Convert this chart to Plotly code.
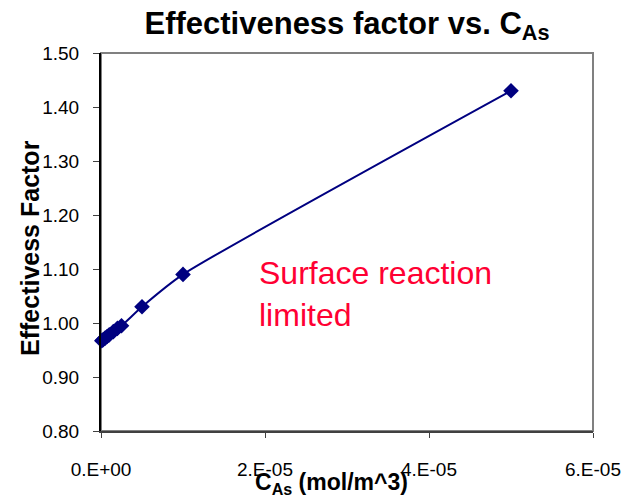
import plotly.graph_objects as go

# Surface concentration of A (mol/m^3) and the resulting effectiveness factor
c_as = [1e-7, 2.5e-7, 5e-7, 7.5e-7, 1e-6, 1.5e-6, 2e-6, 2.5e-6, 5e-6, 1e-5, 5e-5]
eta = [0.967, 0.969, 0.972, 0.975, 0.978, 0.984, 0.990, 0.995, 1.03, 1.09, 1.43]

x_tick_vals = [0, 2e-5, 4e-5, 6e-5]
x_tick_text = ["0.E+00", "2.E-05", "4.E-05", "6.E-05"]
y_tick_vals = [0.80, 0.90, 1.00, 1.10, 1.20, 1.30, 1.40, 1.50]
y_tick_text = ["0.80", "0.90", "1.00", "1.10", "1.20", "1.30", "1.40", "1.50"]

NAVY = "#000080"
FONT = "Liberation Sans, Arial, sans-serif"

# plot-area box in pixels
L, R, T, B = 101, 593, 53, 431
W, H = R - L, B - T

fig = go.Figure()
fig.add_trace(go.Scatter(
    x=c_as, y=eta, mode="lines+markers",
    line=dict(color=NAVY, width=2, shape="spline", smoothing=0.5),
    marker=dict(symbol="diamond", size=12, color=NAVY),
    showlegend=False, cliponaxis=False,
))

fig.update_layout(
    width=626, height=499,
    margin=dict(l=L, r=626 - R, t=T, b=499 - B, autoexpand=False),
    paper_bgcolor="white", plot_bgcolor="white",
    font=dict(family=FONT, color="black"),
    title=dict(
        text="<b>Effectiveness factor vs. C<sub>As</sub></b>",
        x=(L + R) / 2 / 626, xanchor="center", y=1 - 23 / 499, yanchor="middle",
        font=dict(size=31, family=FONT),
    ),
    shapes=[dict(type="rect", xref="paper", yref="paper", x0=0, x1=1, y0=0, y1=1,
                 line=dict(color="#808080", width=2), layer="below")],
    annotations=[
        dict(text="<b>C<sub>As</sub> (mol/m^3)</b>", xref="paper", yref="paper",
             x=(331 - L) / W, y=(B - 483) / H, xanchor="center", yanchor="middle",
             showarrow=False, font=dict(size=23, family=FONT)),
        dict(text="<b>Effectivess Factor</b>", xref="paper", yref="paper",
             x=(30 - L) / W, y=(B - 248) / H, xanchor="center", yanchor="middle",
             textangle=-90, showarrow=False, font=dict(size=25, family=FONT)),
        dict(text="Surface reaction<br>limited", xref="paper", yref="paper",
             x=(257 - L) / W, y=(B - 253) / H, xanchor="left", yanchor="top",
             align="left", showarrow=False,
             font=dict(size=32, color="#FF0033", family=FONT)),
    ],
)

fig.update_xaxes(
    range=[0, 6e-5], tickvals=x_tick_vals, ticktext=x_tick_text, automargin=False,
    showgrid=False, zeroline=False, showline=True, linecolor="#404040", linewidth=2,
    ticks="outside", ticklen=5, tickcolor="#404040", tickwidth=1,
    ticklabelstandoff=15, tickfont=dict(size=19, family=FONT),
)
fig.update_yaxes(
    range=[0.80, 1.50], tickvals=y_tick_vals, ticktext=y_tick_text, automargin=False,
    showgrid=False, zeroline=False, showline=True, linecolor="black", linewidth=2,
    ticks="outside", ticklen=6, tickcolor="#404040", tickwidth=1,
    ticklabelstandoff=10, tickfont=dict(size=19, family=FONT),
)

fig.write_html("out.html")
